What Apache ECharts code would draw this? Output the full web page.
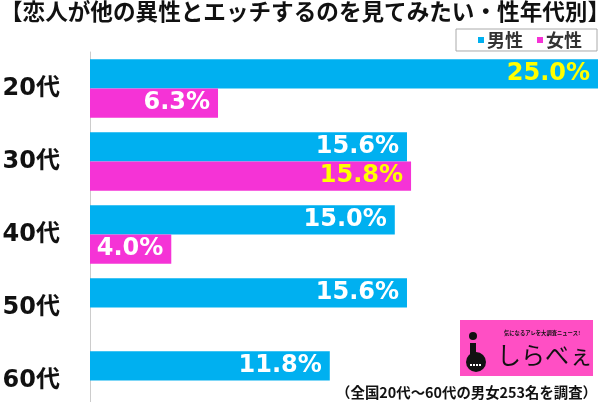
<!DOCTYPE html>
<html>
<head>
    <meta charset="utf-8" />
    <title>恋人が他の異性とエッチするのを見てみたい・性年代別</title>
    <style>
        html, body { margin: 0; padding: 0; background: #fff; }
    </style>
</head>
<body>
<div id="container" style="width: 600px; height: 402px;"></div>

<script src="https://cdn.jsdelivr.net/npm/echarts@6/dist/echarts.min.js"></script>
<script type="text/javascript">

    var categories = ['20代', '30代', '40代', '50代', '60代'];
    var maleValues = [25.0, 15.6, 15.0, 15.6, 11.8];
    var femaleValues = [6.3, 15.8, 4.0, 0, 0];
    var seriesNames = ['男性', '女性'];

    var BLUE = '#00b0f0';
    var PINK = '#f533d6';

    // the largest value in each series gets a yellow label
    function makeData(values) {
        var max = Math.max.apply(null, values);
        return values.map(function (v) {
            return {
                value: v,
                label: {
                    show: v > 0,
                    color: v === max ? '#ffff00' : '#ffffff'
                }
            };
        });
    }

    var chart = echarts.init(document.getElementById('container'));

    var labelStyle = {
        show: true,
        position: 'insideRight',
        distance: 8,
        formatter: function (p) { return p.value.toFixed(1) + '%'; },
        fontFamily: 'DejaVu Sans',
        fontWeight: 'bold',
        fontSize: 24
    };

    chart.setOption({
        animation: false,
        title: {
            text: '【恋人が他の異性とエッチするのを見てみたい・性年代別】',
            left: 0,
            top: 0,
            padding: 0,
            textStyle: {
                fontFamily: 'Noto Sans CJK JP',
                fontWeight: 'bold',
                fontSize: 22.6,
                color: '#111'
            }
        },
        legend: {
            data: seriesNames,
            right: 3,
            top: 29,
            itemWidth: 6,
            itemHeight: 6,
            itemGap: 14,
            icon: 'rect',
            borderColor: '#aaa',
            borderWidth: 1,
            padding: [2, 15, 2, 22],
            textStyle: {
                fontFamily: 'Noto Sans CJK JP',
                fontWeight: 'bold',
                fontSize: 18,
                color: '#333',
                padding: [0, 0, 0, -2]
            }
        },
        grid: {
            left: 90,
            right: 2,
            top: 52,
            bottom: -15,
            outerBoundsMode: 'none'
        },
        xAxis: {
            type: 'value',
            min: 0,
            max: 25,
            show: false
        },
        yAxis: {
            type: 'category',
            data: categories,
            inverse: true,
            axisLine: { lineStyle: { color: '#cccccc', width: 1 } },
            axisTick: { show: false },
            axisLabel: {
                margin: 30,
                fontFamily: 'DejaVu Sans, Noto Sans CJK JP',
                fontWeight: 'bold',
                fontSize: 24,
                color: '#111',
                align: 'right'
            }
        },
        series: [
            {
                name: seriesNames[0],
                type: 'bar',
                data: makeData(maleValues),
                barGap: '0%',
                barCategoryGap: '20%',
                itemStyle: { color: BLUE },
                label: labelStyle
            },
            {
                name: seriesNames[1],
                type: 'bar',
                data: makeData(femaleValues),
                itemStyle: { color: PINK },
                label: labelStyle
            }
        ],
        graphic: [
            {
                type: 'group',
                left: 460,
                top: 320,
                children: [
                    { type: 'rect', shape: { x: 0, y: 0, width: 133, height: 56 }, style: { fill: '#ff4fc4' } },
                    // the little "i" figure of the logo
                    { type: 'circle', shape: { cx: 13, cy: 16, r: 4 }, style: { fill: '#111' } },
                    { type: 'rect', shape: { x: 10, y: 23, width: 6, height: 13 }, style: { fill: '#111' } },
                    { type: 'circle', shape: { cx: 16, cy: 42, r: 10 }, style: { fill: '#111' } },
                    { type: 'line', shape: { x1: 10, y1: 45, x2: 21, y2: 45 }, style: { stroke: '#fff', lineWidth: 2, lineDash: [2, 1] } },
                    {
                        type: 'text',
                        x: 44, y: 10,
                        style: {
                            text: '気になるアレを大調査ニュース!',
                            font: 'bold 5.3px "Noto Sans CJK JP"', fill: '#111'
                        }
                    },
                    {
                        type: 'text',
                        x: 37, y: 23,
                        style: {
                            text: 'しらべぇ',
                            font: '24px "Noto Sans CJK JP"', fill: '#111'
                        }
                    }
                ]
            },
            {
                type: 'text',
                right: 3,
                top: 385,
                style: {
                    text: '（全国20代～60代の男女253名を調査）',
                    font: 'bold 14.4px "Noto Sans CJK JP"',
                    fill: '#111'
                }
            }
        ]
    });

</script>
</body>
</html>
